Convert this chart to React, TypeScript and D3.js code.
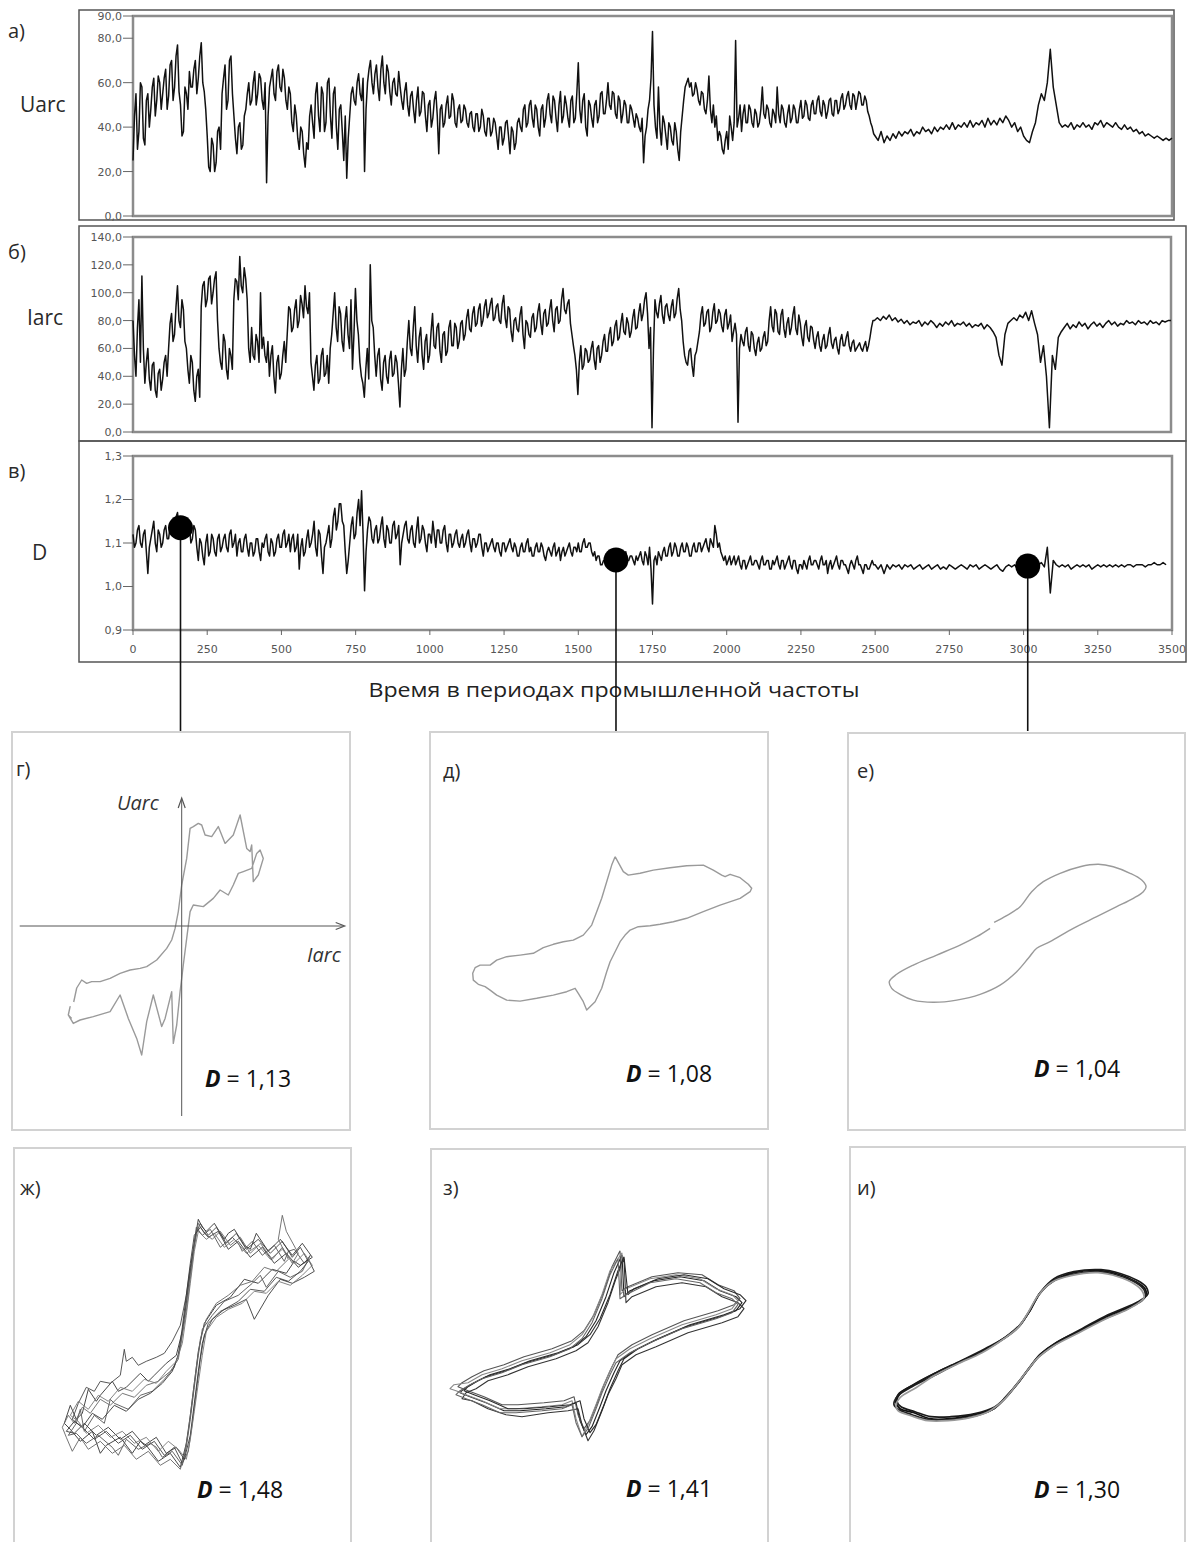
import { scaleLinear, line, curveCatmullRom, curveCatmullRomClosed, curveLinear } from "d3";

const W = 1187;
const H = 1542;
const STEP = 10; // main samples every 10 periods, extra samples half way in the noisy part
const T_DOMAIN: [number, number] = [0, 3500];

// ---------------- time series ----------------
const U_ARC = [
  25, 55, 38, 58, 32, 55, 48, 62, 52, 60,
  55, 66, 54, 70, 58, 77, 50, 38, 55, 65,
  58, 70, 62, 78, 56, 36, 20, 32, 24, 40,
  55, 68, 52, 72, 45, 28, 42, 32, 48, 60,
  52, 65, 55, 62, 48, 15, 58, 66, 52, 68,
  56, 62, 48, 55, 38, 45, 30, 38, 22, 30,
  50, 35, 60, 38, 55, 42, 62, 35, 58, 30,
  50, 25, 17, 45, 58, 50, 64, 52, 20, 60,
  70, 55, 68, 52, 72, 55, 65, 50, 62, 54,
  58, 48, 60, 45, 56, 42, 58, 47, 55, 38,
  52, 44, 56, 28, 50, 42, 54, 45, 52, 40,
  50, 43, 48, 40, 47, 38, 46, 40, 45, 36,
  44, 38, 42, 30, 40, 35, 43, 28, 38, 33,
  44, 38, 50, 42, 52, 40, 48, 36, 50, 44,
  55, 42, 52, 38, 56, 45, 50, 40, 54, 44,
  69, 42, 55, 36, 50, 40, 52, 45, 56, 46,
  60, 48, 55, 44, 52, 46, 50, 42, 48, 40,
  44, 38, 24, 40, 52, 83, 40, 58, 32, 42,
  30, 40, 32, 38, 25, 45, 58, 62, 60, 55,
  57, 50, 55, 46, 63, 42, 40, 34, 36, 28,
  38, 45, 34, 79, 44, 38, 50, 42, 48, 40,
  46, 42, 58, 44, 48, 40, 46, 58, 42, 48,
  40, 50, 44, 48, 42, 52, 45, 50, 43, 52,
  46, 54, 45, 50, 47, 53, 45, 52, 48, 55,
  50, 56, 48, 54, 52, 55, 50, 52, 45, 40,
  36, 34, 38, 33, 36, 34, 37, 35, 38, 36,
  38, 37, 39, 36, 38, 37, 40, 38, 39, 37,
  40, 38, 40, 39, 41, 39, 42, 39, 41, 40,
  42, 40, 43, 40, 42, 41, 43, 40, 44, 41,
  43, 41, 44, 42, 45, 43, 40, 42, 38, 40,
  36, 34, 33, 38, 42, 50, 55, 52, 60, 75,
  58, 50, 42, 40, 41, 40, 42, 39, 41, 40,
  42, 40, 41, 39, 42, 41, 43, 40, 42, 41,
  40, 42, 40, 39, 41, 39, 40, 38, 39, 37,
  38, 36, 37, 36, 35, 36, 35, 34, 35, 34,
  35,
];
// samples at t = 5, 15, ... 2495
const U_ARC_MID = [
  45, 30, 60, 35, 52, 40, 58, 45, 63, 48,
  62, 48, 68, 52, 72, 56, 36, 58, 48, 58,
  66, 55, 72, 60, 48, 22, 35, 20, 38, 30,
  62, 48, 70, 55, 35, 40, 30, 45, 55, 50,
  60, 50, 64, 52, 60, 45, 62, 55, 65, 58,
  66, 52, 58, 42, 50, 35, 40, 28, 33, 45,
  42, 55, 45, 58, 38, 60, 45, 55, 40, 48,
  38, 45, 35, 55, 52, 60, 55, 62, 48, 66,
  60, 64, 58, 66, 60, 68, 56, 60, 55, 65,
  52, 56, 50, 54, 48, 52, 45, 56, 45, 50,
  40, 52, 45, 48, 40, 50, 44, 55, 42, 48,
  42, 50, 42, 46, 40, 46, 38, 48, 38, 44,
  36, 44, 36, 40, 32, 42, 36, 40, 30, 42,
  40, 48, 40, 50, 44, 50, 40, 48, 40, 52,
  46, 54, 44, 50, 42, 54, 44, 52, 42, 55,
  48, 52, 40, 52, 44, 50, 42, 55, 46, 52,
  50, 56, 46, 54, 42, 52, 42, 50, 44, 46,
  40, 44, 36, 48, 62, 50, 35, 40, 45, 36,
  42, 34, 42, 30, 38, 52, 60, 58, 54, 60,
  52, 56, 48, 52, 48, 50, 45, 38, 30, 34,
  30, 40, 42, 40, 50, 46, 42, 50, 42, 48,
  40, 48, 46, 50, 42, 48, 42, 46, 50, 42,
  46, 42, 50, 42, 48, 44, 52, 44, 50, 46,
  52, 47, 52, 44, 52, 46, 52, 46, 53, 48,
  54, 50, 55, 48, 56, 50, 54, 47, 42, 37,
];

const I_ARC = [
  80, 40, 95, 112, 35, 60, 30, 50, 25, 45,
  38, 55, 60, 85, 70, 105, 75, 88, 60, 35,
  50, 22, 45, 90, 108, 95, 112, 100, 115, 60,
  45, 65, 38, 55, 95, 108, 126, 100, 110, 60,
  75, 52, 65, 100, 68, 50, 40, 62, 28, 55,
  42, 65, 70, 88, 75, 95, 80, 92, 105, 85,
  50, 30, 55, 38, 60, 42, 35, 70, 100, 65,
  85, 58, 90, 60, 45, 103, 70, 40, 25, 60,
  120, 75, 40, 60, 30, 55, 35, 58, 42, 50,
  18, 60, 45, 80, 55, 90, 50, 75, 45, 70,
  55, 85, 60, 78, 50, 72, 58, 80, 62, 75,
  65, 80, 70, 88, 72, 90, 78, 92, 80, 95,
  85, 96, 82, 92, 78, 98, 75, 88, 65, 82,
  72, 90, 60, 78, 68, 85, 75, 92, 70, 88,
  78, 95, 72, 90, 80, 103, 85, 95, 70, 55,
  27, 62, 48, 58, 52, 65, 45, 62, 55, 70,
  58, 75, 65, 80, 68, 85, 70, 78, 72, 88,
  75, 92, 85, 100, 60, 3, 95, 82, 98, 78,
  92, 80, 95, 85, 103, 80, 55, 48, 60, 40,
  58, 72, 90, 78, 88, 75, 92, 80, 85, 72,
  88, 78, 65, 78, 7, 70, 62, 75, 58, 70,
  55, 68, 60, 72, 65, 90, 72, 85, 70, 88,
  68, 82, 75, 90, 70, 78, 62, 80, 65, 75,
  60, 72, 58, 70, 62, 75, 60, 68, 56, 70,
  62, 72, 58, 66, 60, 64, 58, 65, 62, 75,
  80, 82, 80, 83, 81, 84, 80, 82, 79, 81,
  78, 80, 77, 79, 78, 80, 76, 79, 77, 80,
  78, 75, 78, 76, 79, 77, 80, 76, 78, 77,
  79, 76, 78, 75, 77, 76, 78, 74, 77, 75,
  72, 68, 55, 48, 70, 78, 80, 82, 80, 84,
  82, 86, 80, 87, 78, 70, 50, 62, 40, 3,
  55, 45, 68, 72, 75, 78, 74, 77, 75, 79,
  76, 78, 74, 77, 79, 76, 78, 75, 78, 80,
  77, 79, 76, 78, 77, 80, 78, 79, 77, 80,
  78, 79, 77, 80, 78, 79, 77, 80, 79, 80,
  80,
];
const I_ARC_MID = [
  55, 75, 50, 60, 50, 38, 48, 30, 42, 30,
  50, 40, 78, 65, 90, 80, 95, 65, 45, 55,
  30, 40, 25, 105, 90, 110, 92, 110, 80, 50,
  70, 45, 60, 45, 110, 95, 105, 118, 95, 50,
  55, 70, 50, 60, 55, 65, 55, 40, 50, 38,
  55, 50, 90, 72, 88, 75, 98, 82, 90, 100,
  40, 48, 35, 55, 40, 55, 60, 85, 75, 90,
  65, 80, 70, 95, 70, 80, 50, 35, 45, 38,
  80, 55, 55, 38, 50, 40, 52, 40, 55, 35,
  45, 40, 65, 60, 75, 62, 68, 55, 65, 50,
  72, 62, 75, 58, 70, 55, 75, 62, 78, 60,
  78, 66, 82, 74, 85, 76, 88, 76, 90, 82,
  92, 80, 90, 80, 92, 82, 90, 72, 80, 74,
  84, 70, 80, 70, 82, 72, 86, 78, 85, 76,
  88, 80, 88, 78, 95, 88, 92, 78, 62, 45,
  50, 45, 60, 50, 60, 52, 60, 50, 65, 58,
  70, 62, 76, 66, 78, 72, 82, 68, 82, 74,
  85, 80, 95, 85, 75, 60, 86, 92, 84, 90,
  84, 90, 82, 96, 88, 65, 50, 58, 48, 55,
  65, 84, 76, 86, 72, 86, 78, 88, 76, 84,
  74, 84, 72, 70, 60, 65, 72, 62, 72, 60,
  64, 58, 68, 62, 80, 76, 88, 72, 84, 74,
  78, 70, 84, 74, 84, 68, 76, 68, 76, 66,
  68, 62, 66, 60, 70, 64, 66, 60, 66, 62,
  68, 62, 64, 58, 62, 60, 62, 58, 68, 80,
];

const D_VAL = [
  1.12, 1.10, 1.14, 1.09, 1.13, 1.03, 1.11, 1.15, 1.08, 1.12,
  1.10, 1.14, 1.11, 1.15, 1.12, 1.17, 1.13, 1.16, 1.12, 1.14,
  1.11, 1.13, 1.06, 1.10, 1.05, 1.12, 1.08, 1.11, 1.07, 1.12,
  1.09, 1.12, 1.08, 1.13, 1.10, 1.07, 1.11, 1.08, 1.12, 1.07,
  1.10, 1.08, 1.11, 1.06, 1.09, 1.12, 1.07, 1.10, 1.08, 1.12,
  1.09, 1.13, 1.10, 1.08, 1.12, 1.09, 1.04, 1.11, 1.08, 1.13,
  1.10, 1.15, 1.07, 1.12, 1.03, 1.10, 1.14, 1.11, 1.18, 1.15,
  1.19, 1.14, 1.03, 1.10, 1.16, 1.12, 1.20, 1.22, 0.99, 1.13,
  1.15, 1.10, 1.14, 1.11, 1.16, 1.09, 1.13, 1.10, 1.15, 1.12,
  1.05, 1.12, 1.15, 1.10, 1.14, 1.09, 1.16, 1.11, 1.13, 1.08,
  1.12, 1.15, 1.09, 1.13, 1.10, 1.14, 1.08, 1.12, 1.10, 1.13,
  1.09, 1.12, 1.10, 1.13, 1.08, 1.11, 1.10, 1.12, 1.07, 1.10,
  1.09, 1.11, 1.08, 1.10, 1.07, 1.10, 1.09, 1.11, 1.08, 1.09,
  1.07, 1.10, 1.08, 1.11, 1.09, 1.07, 1.10, 1.08, 1.09, 1.06,
  1.09, 1.07, 1.10, 1.08, 1.06, 1.09, 1.08, 1.10, 1.07, 1.09,
  1.10, 1.08, 1.11, 1.09, 1.10, 1.07, 1.06, 1.07, 1.05, 1.06,
  1.05, 1.07, 1.06, 1.05, 1.07, 1.06, 1.08, 1.06, 1.07, 1.05,
  1.06, 1.08, 1.05, 1.07, 1.09, 0.96, 1.07, 1.08, 1.06, 1.09,
  1.07, 1.10, 1.08, 1.09, 1.07, 1.10, 1.08, 1.09, 1.07, 1.10,
  1.08, 1.10, 1.09, 1.11, 1.08, 1.10, 1.14, 1.09, 1.08, 1.06,
  1.05, 1.07, 1.06, 1.05, 1.07, 1.04, 1.06, 1.05, 1.07, 1.05,
  1.06, 1.04, 1.07, 1.05, 1.06, 1.04, 1.05, 1.07, 1.04, 1.06,
  1.05, 1.07, 1.04, 1.06, 1.03, 1.05, 1.06, 1.04, 1.07, 1.05,
  1.06, 1.04, 1.07, 1.05, 1.03, 1.06, 1.05, 1.07, 1.04, 1.06,
  1.05, 1.03, 1.06, 1.04, 1.07, 1.05, 1.03, 1.05, 1.04, 1.06,
  1.05, 1.04, 1.05, 1.03, 1.05, 1.04, 1.05, 1.045, 1.05, 1.04,
  1.05, 1.045, 1.05, 1.04, 1.045, 1.05, 1.04, 1.045, 1.05, 1.04,
  1.045, 1.05, 1.04, 1.045, 1.04, 1.05, 1.045, 1.04, 1.045, 1.05,
  1.045, 1.04, 1.05, 1.045, 1.05, 1.04, 1.045, 1.05, 1.045, 1.04,
  1.045, 1.05, 1.04, 1.035, 1.045, 1.05, 1.045, 1.05, 1.04, 1.05,
  1.045, 1.05, 1.045, 1.05, 1.04, 1.05, 1.055, 1.045, 1.09, 0.985,
  1.06, 1.05, 1.045, 1.05, 1.045, 1.05, 1.04, 1.045, 1.05, 1.045,
  1.05, 1.045, 1.05, 1.04, 1.045, 1.05, 1.045, 1.05, 1.045, 1.05,
  1.045, 1.05, 1.045, 1.05, 1.045, 1.05, 1.05, 1.045, 1.05, 1.05,
  1.05, 1.045, 1.05, 1.05, 1.055, 1.05, 1.05, 1.055, 1.05,
];
const D_VAL_MID = [
  1.09, 1.13, 1.10, 1.12, 1.08, 1.09, 1.13, 1.10, 1.13, 1.09,
  1.13, 1.11, 1.14, 1.12, 1.16, 1.13, 1.15, 1.12, 1.15, 1.10,
  1.14, 1.09, 1.11, 1.07, 1.10, 1.07, 1.12, 1.08, 1.11, 1.08,
  1.11, 1.09, 1.12, 1.09, 1.12, 1.10, 1.08, 1.11, 1.09, 1.10,
  1.07, 1.11, 1.08, 1.10, 1.11, 1.08, 1.11, 1.07, 1.11, 1.09,
  1.12, 1.09, 1.12, 1.11, 1.08, 1.12, 1.09, 1.07, 1.11, 1.09,
  1.12, 1.09, 1.13, 1.07, 1.09, 1.12, 1.09, 1.16, 1.13, 1.19,
  1.15, 1.08, 1.06, 1.14, 1.11, 1.17, 1.14, 1.12, 1.08, 1.16,
  1.11, 1.13, 1.10, 1.14, 1.11, 1.14, 1.10, 1.14, 1.11, 1.14,
  1.10, 1.14, 1.11, 1.13, 1.10, 1.13, 1.10, 1.14, 1.10, 1.12,
  1.10, 1.12, 1.13, 1.10, 1.13, 1.10, 1.12, 1.09, 1.12, 1.10,
  1.11, 1.09, 1.12, 1.10, 1.11, 1.09, 1.12, 1.09, 1.10, 1.08,
  1.10, 1.09, 1.10, 1.08, 1.10, 1.08, 1.10, 1.09, 1.10, 1.07,
  1.09, 1.08, 1.10, 1.08, 1.07, 1.09, 1.08, 1.10, 1.07, 1.08,
  1.08, 1.09, 1.07, 1.09, 1.08, 1.07, 1.09, 1.08, 1.09, 1.08,
  1.08, 1.10, 1.09, 1.10, 1.08, 1.08, 1.07, 1.05, 1.06, 1.05,
  1.06, 1.05, 1.07, 1.06, 1.05, 1.07, 1.06, 1.07, 1.06, 1.07,
  1.07, 1.06, 1.08, 1.05, 1.04, 1.06, 1.05, 1.07, 1.08, 1.07,
  1.09, 1.07, 1.10, 1.07, 1.09, 1.08, 1.10, 1.07, 1.09, 1.08,
  1.10, 1.08, 1.10, 1.09, 1.11, 1.09, 1.12, 1.10, 1.07, 1.07,
  1.06, 1.05, 1.07, 1.06, 1.05, 1.06, 1.04, 1.06, 1.05, 1.06,
  1.05, 1.06, 1.05, 1.06, 1.04, 1.06, 1.06, 1.05, 1.06, 1.04,
  1.06, 1.05, 1.06, 1.04, 1.05, 1.04, 1.05, 1.06, 1.05, 1.06,
  1.05, 1.06, 1.05, 1.06, 1.05, 1.04, 1.06, 1.05, 1.06, 1.05,
  1.04, 1.05, 1.05, 1.06, 1.05, 1.04, 1.05, 1.04, 1.05, 1.05,
];

const U_TICKS = [0, 20, 40, 60, 80, 90];
const I_TICKS = [0, 20, 40, 60, 80, 100, 120, 140];
const D_TICKS = [0.9, 1.0, 1.1, 1.2, 1.3];
const T_TICKS = [0, 250, 500, 750, 1000, 1250, 1500, 1750, 2000, 2250, 2500, 2750, 3000, 3250, 3500];

// picked moments on the D curve
const MARK_T = [160, 1627, 3014];
const MARK_D = [1.135, 1.061, 1.047];

const PANEL_TAGS = ["а)", "б)", "в)"];
const PANEL_NAMES = ["Uarc", "Iarc", "D"];
const X_TITLE = "Время в периодах промышленной частоты";

const LOOP_TAGS = ["г)", "д)", "е)", "ж)", "з)", "и)"];
const LOOP_DIM = ["1,13", "1,08", "1,04", "1,48", "1,41", "1,30"];

// ---------------- Uarc(Iarc) loops, arbitrary units ----------------
const LOOP_G = [
  [-54, -38], [-52.5, -31], [-50, -27], [-47.5, -28.7], [-45, -27.8], [-40.8, -27.8], [-35.8, -26.2],
  [-30.8, -23.7], [-25.8, -22], [-20.8, -21.2], [-17.5, -20.3], [-12.5, -17], [-7.5, -11.2], [-5, -7],
  [-3.3, -1.2], [-1.7, 7.2], [0, 20.5], [2.5, 33.8], [4.2, 48.8], [5.8, 49.7], [8.3, 51.3], [10, 50.5],
  [11.7, 45.5], [15, 44.7], [18.3, 49.7], [21.7, 41.3], [25.8, 45.5], [29.2, 55.5], [32.5, 38.8],
  [34.2, 37.2], [35, 40.5], [35.8, 22.2], [38.3, 25.5], [40.8, 33.8], [39.2, 38], [37.5, 36.3],
  [35, 28.8], [30.8, 27.2], [28.3, 26.3], [25.8, 20.5], [23.3, 15.5], [19.2, 18], [15.8, 13.8],
  [10.8, 9.7], [5.8, 10.5], [4.2, 7.2], [2.5, -6.2], [0.8, -19.5], [-0.8, -32.8], [-2.5, -49.5],
  [-4.2, -58.7], [-5, -32.8], [-8.3, -46.2], [-10, -50.3], [-14.2, -34.5], [-17.5, -47.8], [-20, -64.5],
  [-22.5, -56.2], [-26.7, -46.2], [-30.8, -34.5], [-35.8, -42.8], [-44.2, -45.3], [-50.8, -47],
  [-54.2, -48.7], [-56.7, -44.5], [-55.8, -40.3], [-56.7, -44.5], [-55, -46.2],
];

const LOOP_DD = [
  [1.7, 37.5], [5.8, 30], [8.3, 28.3], [14.2, 29.2], [20.8, 30.8], [29.2, 32], [37.5, 33], [45.8, 33.3],
  [50.8, 30.8], [55, 28.3], [56.7, 27.5], [59.2, 28.7], [64.2, 27], [66.7, 25], [68.3, 23.7], [70, 21.7],
  [69.2, 20], [64.2, 16.7], [54.2, 13.3], [45.8, 10], [37.5, 6.7], [30.8, 5], [24.2, 3.7], [19.2, 3],
  [13.3, 2.5], [9.2, 0.8], [6.7, -1.7], [4.2, -5], [1.7, -10], [-0.8, -15], [-2.5, -20], [-5, -28.3],
  [-8.3, -35], [-12.5, -39.2], [-14.2, -35], [-16.7, -30.8], [-18.3, -28.3], [-22.5, -30], [-29.2, -31.7],
  [-37.5, -33.3], [-45.8, -34.7], [-52.5, -34.2], [-57.5, -31.7], [-60.8, -29.2], [-63.3, -27.5],
  [-66.7, -26.3], [-69.2, -24.2], [-69.5, -20.8], [-68.3, -18], [-65.8, -16.7], [-60.8, -16.7],
  [-57.5, -14.2], [-52.5, -12.5], [-45.8, -11.7], [-39.2, -10.8], [-34.2, -8], [-29.2, -6.3],
  [-24.2, -5], [-19.2, -4.2], [-14.2, -1.7], [-10, 3.3], [-7.5, 10], [-5, 16.7], [-2.5, 25], [0, 33.3],
  [1.7, 37.5],
];

const LOOP_E = [
  [-11.3, 4.7], [-5, 8], [1.7, 12.5], [7.5, 20], [13.3, 25], [21.7, 29.2], [31.7, 32.5], [40.8, 33.7],
  [48.3, 32.5], [56.7, 29.2], [62.5, 25.8], [64.7, 22.5], [63.3, 20], [58.3, 16.7], [50, 12.5], [40, 7.5],
  [28.3, 1.7], [16.7, -5], [10, -8.3], [5.8, -13.3], [0, -20], [-8.3, -26.7], [-18.3, -31.3], [-30, -34.2],
  [-41.7, -35.3], [-51.7, -34.2], [-58.3, -31.3], [-62.5, -28.3], [-63.7, -25], [-60, -21.3],
  [-51.7, -16.7], [-40, -11.7], [-28.3, -6.7], [-20, -2.5], [-13.3, 1.7],
];

const LOOPS_ZH = [
  [[-62, -40], [-59, -31], [-56, -38], [-53, -35], [-50, -23], [-46, -29], [-44, -26], [-38, -19], [-35, -24],
   [-31, -22], [-24, -15], [-20, -19], [-17, -16], [-11, -10], [-6, -6], [-3, 6], [-1, 20], [1, 36], [3, 50],
   [5, 62], [7, 58], [9, 56], [13, 60], [18, 52], [20, 55], [23, 57], [28, 49], [31, 47], [34, 55], [40, 46],
   [44, 50], [46, 52], [52, 44], [57, 50], [62, 43], [56, 39], [53, 41], [49, 35], [42, 37], [38, 33],
   [35, 30], [28, 32], [21, 23], [14, 19], [8, 10], [5, -4], [3, -20], [1, -36], [-1, -50], [-4, -62],
   [-9, -55], [-12, -57], [-15, -59], [-21, -51], [-24, -49], [-28, -55], [-34, -47], [-41, -51],
   [-44, -55], [-48, -44], [-54, -49], [-59, -43], [-62, -40]],
  [[-60, -46], [-56, -40], [-54, -33], [-52, -44], [-47, -36], [-42, -40], [-39, -28], [-37, -30], [-30, -33],
   [-24, -26], [-18, -24], [-12, -18], [-7, -12], [-4, -2], [-2, 12], [0, 28], [2, 42], [4, 58], [7, 54],
   [11, 57], [16, 48], [22, 53], [25, 50], [27, 46], [32, 51], [37, 44], [43, 49], [48, 41], [50, 46],
   [53, 47], [58, 40], [61, 44], [57, 36], [51, 33], [45, 36], [39, 28], [36, 34], [32, 30], [25, 24],
   [18, 21], [12, 14], [7, 7], [5, -6], [3, -22], [1, -38], [-1, -52], [-3, -61], [-8, -54], [-13, -57],
   [-16, -52], [-19, -50], [-25, -53], [-31, -48], [-35, -56], [-38, -52], [-45, -46], [-51, -50],
   [-56, -45], [-60, -46]],
  [[-58, -38], [-55, -30], [-51, -22], [-47, -24], [-44, -19], [-39, -20], [-34, -16], [-32, -3], [-31, -9],
   [-28, -7], [-25, -11], [-21, -9], [-16, -7], [-12, -5], [-8, 1], [-4, 9], [-1, 24], [1, 38], [4, 55],
   [6, 60], [10, 54], [14, 58], [19, 50], [24, 55], [29, 47], [35, 52], [41, 45], [47, 51], [52, 43],
   [56, 48], [60, 41], [56, 36], [50, 31], [44, 33], [38, 26], [31, 27], [25, 21], [18, 17], [12, 12],
   [8, 4], [6, -8], [4, -24], [2, -40], [0, -54], [-3, -60], [-7, -52], [-12, -56], [-17, -49], [-23, -53],
   [-29, -46], [-35, -50], [-41, -44], [-47, -48], [-53, -42], [-58, -38]],
  [[-63, -42], [-60, -36], [-57, -40], [-53, -32], [-49, -35], [-44, -28], [-39, -31], [-33, -25], [-27, -27],
   [-21, -21], [-15, -19], [-9, -14], [-5, -8], [-3, 4], [-1, 16], [1, 32], [3, 48], [5, 60], [8, 55],
   [12, 52], [16, 56], [21, 49], [26, 53], [31, 45], [36, 50], [42, 42], [47, 48], [52, 40], [55, 45],
   [49, 56], [47, 64], [45, 52], [50, 42], [44, 36], [38, 38], [32, 31], [26, 29], [20, 24], [14, 20],
   [9, 12], [6, 2], [4, -12], [2, -28], [0, -44], [-2, -56], [-4, -63], [-9, -58], [-14, -61], [-20, -54],
   [-26, -58], [-32, -51], [-38, -55], [-44, -49], [-50, -53], [-54, -47], [-58, -54], [-61, -47], [-63, -42]],
  [[-61, -44], [-57, -39], [-53, -42], [-48, -35], [-43, -38], [-37, -31], [-31, -34], [-25, -28], [-19, -25],
   [-13, -20], [-8, -14], [-5, -6], [-3, 8], [-1, 24], [1, 40], [3, 54], [6, 58], [10, 53], [15, 56],
   [20, 47], [25, 51], [31, 43], [37, 48], [43, 40], [49, 45], [55, 38], [60, 42], [63, 36], [58, 33],
   [52, 30], [46, 32], [40, 24], [33, 12], [29, 22], [23, 19], [16, 16], [10, 10], [7, 0], [5, -14],
   [3, -30], [1, -46], [-2, -58], [-6, -52], [-11, -55], [-16, -47], [-22, -51], [-28, -44], [-34, -48],
   [-40, -42], [-46, -46], [-52, -40], [-57, -45], [-61, -44]],
  [[-59, -36], [-55, -29], [-50, -33], [-45, -26], [-40, -29], [-34, -22], [-28, -24], [-22, -18], [-16, -20],
   [-11, -14], [-6, -9], [-3, 0], [-1, 14], [1, 30], [3, 46], [5, 56], [9, 52], [13, 55], [18, 48],
   [23, 52], [29, 45], [35, 49], [41, 42], [47, 47], [53, 40], [58, 45], [62, 39], [57, 34], [51, 29],
   [45, 31], [39, 25], [33, 26], [27, 20], [20, 17], [14, 13], [9, 6], [7, -6], [5, -20], [3, -34],
   [1, -48], [-1, -58], [-5, -53], [-10, -49], [-15, -54], [-21, -47], [-27, -50], [-33, -44], [-39, -47],
   [-45, -41], [-51, -45], [-55, -39], [-59, -36]],
];

const LOOPS_Z = [
  [[11, 46], [12, 25], [15, 28], [27, 33], [40, 35], [52, 33], [60, 28], [68, 25], [71, 22], [68, 18], [60, 15],
   [43, 10], [27, 3], [17, -2], [10, -7], [7, -13], [3, -22], [0, -30], [-4, -40], [-7, -44], [-10, -37],
   [-12, -28], [-17, -30], [-27, -31], [-40, -32], [-48, -32], [-57, -28], [-65, -25], [-70, -23],
   [-68, -21], [-63, -18], [-57, -15], [-47, -12], [-37, -8], [-23, -4], [-13, 0], [-7, 5], [-2, 13],
   [3, 25], [7, 37], [11, 46]],
  [[10, 48], [11, 28], [14, 30], [26, 35], [39, 37], [51, 36], [59, 31], [67, 28], [70, 24], [67, 21], [59, 18],
   [42, 13], [26, 6], [16, 1], [9, -4], [6, -10], [2, -19], [-1, -27], [-5, -37], [-8, -41], [-11, -34],
   [-13, -25], [-18, -27], [-28, -28], [-41, -29], [-49, -29], [-58, -25], [-66, -22], [-71, -20],
   [-69, -18], [-64, -15], [-58, -12], [-48, -9], [-38, -5], [-24, -1], [-14, 3], [-8, 8], [-3, 16],
   [2, 28], [6, 40], [10, 48]],
  [[12, 44], [13, 22], [16, 25], [28, 30], [41, 32], [53, 30], [61, 25], [69, 22], [72, 19], [69, 15], [61, 12],
   [44, 7], [28, 0], [18, -4], [11, -9], [8, -16], [4, -24], [1, -32], [-3, -42], [-6, -47], [-9, -39],
   [-11, -31], [-16, -32], [-26, -33], [-39, -35], [-47, -34], [-56, -31], [-64, -27], [-69, -26],
   [-67, -23], [-62, -21], [-56, -17], [-46, -14], [-36, -10], [-22, -6], [-12, -2], [-6, 2], [-1, 10],
   [4, 22], [8, 34], [12, 44]],
  [[11, 47], [10, 26], [13, 29], [25, 34], [38, 36], [50, 34], [58, 29], [66, 26], [69, 23], [66, 19], [58, 16],
   [41, 11], [25, 4], [15, -1], [8, -6], [5, -12], [1, -21], [-2, -29], [-6, -39], [-9, -45], [-12, -36],
   [-14, -27], [-19, -29], [-29, -30], [-42, -31], [-50, -31], [-59, -27], [-67, -24], [-72, -22],
   [-75, -21], [-73, -19], [-66, -18], [-59, -14], [-49, -11], [-39, -7], [-25, -3], [-15, 1], [-9, 6],
   [-4, 14], [1, 26], [5, 38], [11, 47]],
  [[12, 45], [14, 26], [17, 29], [29, 34], [42, 36], [54, 34], [62, 29], [70, 26], [73, 23], [70, 19], [62, 16],
   [45, 11], [29, 4], [19, -1], [12, -6], [9, -12], [5, -21], [2, -29], [-2, -39], [-5, -43], [-8, -36],
   [-10, -27], [-15, -29], [-25, -30], [-38, -31], [-46, -31], [-55, -27], [-63, -24], [-68, -22],
   [-66, -20], [-61, -17], [-55, -14], [-45, -11], [-35, -7], [-21, -3], [-11, 1], [-5, 6], [0, 14],
   [5, 26], [9, 38], [12, 45]],
  [[9, 44], [10, 24], [13, 26], [25, 32], [38, 34], [50, 32], [58, 27], [66, 24], [69, 21], [66, 17], [58, 14],
   [41, 9], [25, 2], [15, -3], [8, -8], [5, -14], [1, -23], [-2, -31], [-6, -41], [-9, -45], [-12, -38],
   [-14, -29], [-19, -31], [-29, -32], [-42, -33], [-50, -33], [-59, -29], [-67, -26], [-72, -24],
   [-70, -22], [-65, -19], [-59, -16], [-49, -13], [-39, -9], [-25, -5], [-15, -1], [-9, 4], [-4, 12],
   [1, 24], [5, 36], [9, 44]],
];

const LOOPS_I = [
  [[-62, -28], [-61, -24], [-53, -19], [-42, -13], [-30, -7.5], [-18, -2], [-7, 5], [0, 11], [5, 18], [10, 27],
   [17, 33], [27, 37], [40, 38], [50, 36], [58, 32.5], [62.5, 29], [63, 26], [61, 23], [55, 20], [43, 15],
   [30, 8], [18, 2], [10, -4], [5, -10], [0, -17], [-7, -25], [-13, -31], [-23, -34], [-35, -36], [-45, -36],
   [-53, -33], [-60, -31]],
  [[-63, -29], [-61.5, -25], [-54, -20], [-42, -14], [-30.5, -8], [-19, -2.5], [-7.5, 4.5], [-0.5, 10],
   [4.5, 17.5], [9.5, 26], [16, 32.5], [26, 36], [39.5, 37.5], [49.5, 35.5], [58, 32], [62, 28.5],
   [62.5, 25], [60, 22.5], [54, 19], [42.5, 14], [29, 7.5], [17.5, 1], [9.5, -5], [4.5, -11], [-0.5, -17.5],
   [-7.5, -26], [-14, -31.5], [-24, -35], [-35.5, -36.5], [-45.5, -36.5], [-54, -34], [-60.5, -31.5]],
  [[-61.5, -27.5], [-60, -23.5], [-52.5, -18.5], [-41, -12.5], [-29.5, -7], [-17.5, -1], [-6, 5.5],
   [0.5, 11.5], [5.5, 19], [10.5, 27.5], [17, 34], [27, 37.5], [40.5, 38.5], [50.5, 36.5], [59, 33],
   [63, 30], [64, 26.5], [61.5, 24], [56, 21], [44, 16], [31, 9], [19, 2.5], [10.5, -3.5], [5.5, -9.5],
   [0.5, -16], [-6, -24], [-12.5, -30], [-22.5, -33.5], [-34.5, -35], [-44.5, -35], [-52.5, -32.5],
   [-59.5, -30]],
  [[-62, -29.5], [-60, -25.5], [-52, -20.5], [-43, -14.5], [-31, -8.5], [-19, -3], [-8, 4], [-1, 9.5],
   [4, 17], [9, 25.5], [15.5, 32], [25.5, 35.5], [39, 37], [49, 35], [57, 31.5], [61, 28], [62, 24.5],
   [59.5, 22], [53.5, 18.5], [42, 13.5], [29.5, 7], [17, 0.5], [9, -5.5], [4, -11.5], [-1, -18],
   [-8, -26.5], [-15, -32], [-25, -35.5], [-36, -37], [-46, -37], [-54.5, -34.5], [-61, -32]],
];

// ---------------- layout ----------------
const TOP = [
  { frame: [79, 10, 1174, 220], plot: [133, 16, 1172, 216], tag: [8, 38], name: [20, 112] },
  { frame: [79, 226, 1186, 441], plot: [133, 237, 1171, 432], tag: [8, 259], name: [27, 325] },
  { frame: [79, 441, 1186, 662], plot: [133, 456, 1172, 630], tag: [8, 478], name: [32, 560] },
];

const LOOP_BOX = [
  { box: [12, 732, 350, 1130], c: [181.7, 926], tag: [16, 776], dim: [205, 1087] },
  { box: [430, 732, 768, 1129], c: [611.7, 931.7], tag: [443, 778], dim: [626, 1082] },
  { box: [848, 733, 1185, 1130], c: [1016.7, 931.7], tag: [857, 778], dim: [1034, 1077] },
  { box: [14, 1148, 351, 1560], c: [188.3, 1343.3], tag: [20, 1195], dim: [197, 1498] },
  { box: [431, 1149, 768, 1560], c: [600, 1346.7], tag: [443, 1195], dim: [626, 1497] },
  { box: [850, 1147, 1185, 1560], c: [1020, 1346.7], tag: [857, 1195], dim: [1034, 1498] },
];

const CONNECT_END = 731;
const LABEL_FONT = "'Open Sans', 'DejaVu Sans', sans-serif";
const TICK_FONT = "'DejaVu Sans', Verdana, sans-serif";

const fmt = (v: number) => v.toFixed(1).replace(".", ",");

type Pt = number[];

// main samples at i*STEP, extra samples at i*STEP + STEP/2
function samples(main: number[], mid: number[]): Pt[] {
  const pts: Pt[] = main.map((v, i) => [i * STEP, v]);
  mid.forEach((v, i) => pts.push([i * STEP + STEP / 2, v]));
  return pts.sort((a, b) => a[0] - b[0]);
}

function loopScales(c: number[]) {
  const sx = scaleLinear().domain([-80, 80]).range([c[0] - 160, c[0] + 160]);
  const sy = scaleLinear().domain([-80, 80]).range([c[1] + 160, c[1] - 160]);
  return { sx, sy };
}

function TopPanel({ idx, values, domain, ticks, xAxis }: {
  idx: number; values: Pt[]; domain: [number, number]; ticks: number[]; xAxis?: boolean;
}) {
  const L = TOP[idx];
  const [x0, y0, x1, y1] = L.plot;
  const xs = scaleLinear().domain(T_DOMAIN).range([x0, x1]);
  const ys = scaleLinear().domain(domain).range([y1, y0]);
  const d = line<Pt>().x(p => xs(p[0])).y(p => ys(p[1]))(values) ?? "";
  const f = L.frame;
  return (
    <g>
      <rect x={f[0]} y={f[1]} width={f[2] - f[0]} height={f[3] - f[1]} fill="none" stroke="#555" strokeWidth={1.5} />
      <rect x={x0} y={y0} width={x1 - x0} height={y1 - y0} fill="#fff" stroke="#8c8c8c" strokeWidth={2.5} />
      {ticks.map(t => (
        <g key={t} transform={`translate(0,${ys(t)})`}>
          <line x1={123} x2={x0} stroke="#666" strokeWidth={1} />
          <text x={122} dy="0.36em" textAnchor="end" fontFamily={TICK_FONT} fontSize={11} fill="#555">{fmt(t)}</text>
        </g>
      ))}
      {xAxis && T_TICKS.map(t => (
        <g key={t} transform={`translate(${xs(t)},${y1})`}>
          <line y1={0} y2={5} stroke="#666" strokeWidth={1} />
          <text y={23} textAnchor="middle" fontFamily={TICK_FONT} fontSize={11} fill="#555">{t}</text>
        </g>
      ))}
      <path d={d} fill="none" stroke="#111" strokeWidth={1.5} strokeLinejoin="round" />
      <text x={L.tag[0]} y={L.tag[1]} fontFamily={LABEL_FONT} fontSize={20} fill="#2a2a2a">{PANEL_TAGS[idx]}</text>
      <text x={L.name[0]} y={L.name[1]} fontFamily={LABEL_FONT} fontSize={21} fill="#2a2a2a">{PANEL_NAMES[idx]}</text>
    </g>
  );
}

function LoopPanel({ idx, loops, curve, stroke, width }: {
  idx: number; loops: Pt[][]; curve: "linear" | "smooth" | "smoothClosed";
  stroke: string[]; width: number;
}) {
  const L = LOOP_BOX[idx];
  const { sx, sy } = loopScales(L.c);
  const gen = line<Pt>().x(p => sx(p[0])).y(p => sy(p[1]));
  if (curve === "smooth") gen.curve(curveCatmullRom);
  else if (curve === "smoothClosed") gen.curve(curveCatmullRomClosed);
  else gen.curve(curveLinear);
  const b = L.box;
  return (
    <g>
      <rect x={b[0]} y={b[1]} width={b[2] - b[0]} height={b[3] - b[1]} fill="#fff" stroke="#d2d2d2" strokeWidth={2} />
      {loops.map((lp, i) => (
        <path key={i} d={gen(lp) ?? ""} fill="none" stroke={stroke[i % stroke.length]}
          strokeWidth={width} strokeLinejoin="round" />
      ))}
      <text x={L.tag[0]} y={L.tag[1]} fontFamily={LABEL_FONT} fontSize={20} fill="#2a2a2a">{LOOP_TAGS[idx]}</text>
      <text x={L.dim[0]} y={L.dim[1]} fontFamily={LABEL_FONT} fontSize={23} fill="#111">
        <tspan fontWeight="bold" fontStyle="italic">D</tspan>
        <tspan> = {LOOP_DIM[idx]}</tspan>
      </text>
    </g>
  );
}

export default function App() {
  const xs = scaleLinear().domain(T_DOMAIN).range([TOP[2].plot[0], TOP[2].plot[2]]);
  const yd = scaleLinear().domain([0.9, 1.3]).range([TOP[2].plot[3], TOP[2].plot[1]]);
  const g = loopScales(LOOP_BOX[0].c);
  const ax = "#555";

  return (
    <svg width={W} height={H} viewBox={`0 0 ${W} ${H}`}
      style={{ position: "absolute", left: 0, top: 0, background: "#fff" }}>
      <rect width={W} height={H} fill="#fff" />

      <TopPanel idx={0} values={samples(U_ARC, U_ARC_MID)} domain={[0, 90]} ticks={U_TICKS} />
      <TopPanel idx={1} values={samples(I_ARC, I_ARC_MID)} domain={[0, 140]} ticks={I_TICKS} />
      <TopPanel idx={2} values={samples(D_VAL, D_VAL_MID)} domain={[0.9, 1.3]} ticks={D_TICKS} xAxis />

      <text x={614} y={697} textAnchor="middle" fontFamily={LABEL_FONT} fontSize={20} fill="#222"
        textLength={491} lengthAdjust="spacingAndGlyphs">{X_TITLE}</text>

      <LoopPanel idx={0} loops={[LOOP_G]} curve="linear" stroke={["#9a9a9a"]} width={1.4} />
      <LoopPanel idx={1} loops={[LOOP_DD]} curve="linear" stroke={["#9a9a9a"]} width={1.4} />
      <LoopPanel idx={2} loops={[LOOP_E]} curve="smooth" stroke={["#9a9a9a"]} width={1.4} />
      <LoopPanel idx={3} loops={LOOPS_ZH} curve="linear" stroke={["#333", "#555", "#444", "#666", "#3a3a3a", "#777"]} width={0.9} />
      <LoopPanel idx={4} loops={LOOPS_Z} curve="linear" stroke={["#222", "#555", "#333", "#888", "#2a2a2a", "#666"]} width={1.1} />
      <LoopPanel idx={5} loops={LOOPS_I} curve="smoothClosed" stroke={["#111", "#222", "#1a1a1a", "#999"]} width={1.7} />

      {/* axes of panel г */}
      <line x1={g.sx(0)} x2={g.sx(0)} y1={g.sy(-95)} y2={g.sy(63)} stroke={ax} strokeWidth={1} />
      <path d={`M${g.sx(0) - 3.5},${g.sy(59)} L${g.sx(0)},${g.sy(64)} L${g.sx(0) + 3.5},${g.sy(59)}`} fill="none" stroke={ax} strokeWidth={1.2} />
      <line x1={g.sx(-81)} x2={g.sx(81)} y1={g.sy(0)} y2={g.sy(0)} stroke={ax} strokeWidth={1} />
      <path d={`M${g.sx(77)},${g.sy(0) - 3.5} L${g.sx(81.5)},${g.sy(0)} L${g.sx(77)},${g.sy(0) + 3.5}`} fill="none" stroke={ax} strokeWidth={1.2} />
      <text x={117} y={810} fontFamily={LABEL_FONT} fontSize={20} fontStyle="italic" fill="#333">Uarc</text>
      <text x={307} y={962} fontFamily={LABEL_FONT} fontSize={20} fontStyle="italic" fill="#333">Iarc</text>

      {/* picked points and leaders */}
      {MARK_T.map((t, i) => (
        <g key={t}>
          <line x1={xs(t)} x2={xs(t)} y1={yd(MARK_D[i])} y2={CONNECT_END} stroke="#111" strokeWidth={1.6} />
          <circle cx={xs(t)} cy={yd(MARK_D[i])} r={12.5} fill="#000" />
        </g>
      ))}
    </svg>
  );
}
